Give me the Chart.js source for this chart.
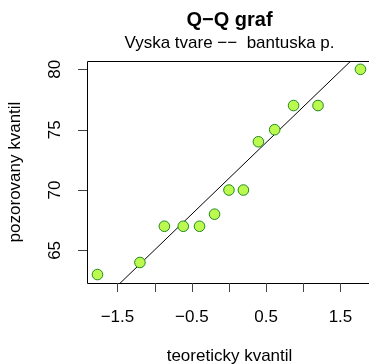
<!DOCTYPE html>
<html>
<head>
<meta charset="utf-8">
<script src="https://cdn.jsdelivr.net/npm/chart.js@4.4.1/dist/chart.umd.min.js"></script>
<style>
  html, body { margin: 0; padding: 0; background: #fff; overflow: hidden; }
  #wrap { width: 369px; height: 364px; position: relative; }
</style>
</head>
<body>
<div id="wrap"><canvas id="qq" width="369" height="364"></canvas></div>
<script>
// theoretical normal quantiles (x) and sorted sample values (y)
const teoreticky = [-1.769, -1.198, -0.869, -0.615, -0.396, -0.194, 0, 0.194, 0.396, 0.615, 0.869, 1.198, 1.769];
const pozorovany = [63, 64, 67, 67, 67, 68, 70, 70, 74, 75, 77, 77, 80];
const xTicks = [-1.5, -1.0, -0.5, 0, 0.5, 1.0, 1.5];
const xTickLabels = ['-1.5', '', '-0.5', '', '0.5', '', '1.5'];
const yTicks = [65, 70, 75, 80];
// visible part of the plot region (right border falls just off the page)
const xRange = [-1.91, 1.884];
const yRange = [62.3, 80.69];
// reference line: intercept, slope
const qqLine = [70.97, 5.93];

const FONT = 'Liberation Sans, Arial, sans-serif';

const points = teoreticky.map((x, i) => ({ x, y: pozorovany[i] }));
const linePts = xRange.map(x => ({ x, y: qqLine[0] + qqLine[1] * x }));

// draws R-style box, ticks and labels from the chart scales
const rAxes = {
  id: 'rAxes',
  afterDraw(chart) {
    const { ctx, chartArea: a, scales: { x, y } } = chart;
    ctx.save();
    ctx.strokeStyle = '#000';
    ctx.lineWidth = 1;
    ctx.beginPath();
    ctx.moveTo(a.right + 1, a.top + 0.5);
    ctx.lineTo(a.left + 0.5, a.top + 0.5);
    ctx.lineTo(a.left + 0.5, a.bottom + 0.5);
    ctx.lineTo(a.right + 1, a.bottom + 0.5);
    ctx.stroke();

    ctx.fillStyle = '#000';
    ctx.textAlign = 'center';
    ctx.textBaseline = 'middle';
    ctx.beginPath();
    xTicks.forEach((v) => {
      const px = Math.round(x.getPixelForValue(v)) + 0.5;
      ctx.moveTo(px, a.bottom);
      ctx.lineTo(px, a.bottom + 9);
    });
    yTicks.forEach((v) => {
      const py = Math.round(y.getPixelForValue(v)) + 0.5;
      ctx.moveTo(a.left, py);
      ctx.lineTo(a.left - 9, py);
    });
    ctx.strokeStyle = '#444';
    ctx.stroke();

    ctx.font = '17px ' + FONT;
    xTicks.forEach((v, i) => {
      const label = xTickLabels[i].replace('-', '\u2212');
      if (label) ctx.fillText(label, x.getPixelForValue(v), 317);
    });
    yTicks.forEach((v) => {
      ctx.save();
      ctx.translate(55, y.getPixelForValue(v));
      ctx.rotate(-Math.PI / 2);
      ctx.fillText(String(v), 0, 0);
      ctx.restore();
    });

    const cx = 229.5;
    ctx.fillText('teoreticky kvantil', cx, 356);
    ctx.save();
    ctx.translate(15, (a.top + a.bottom) / 2);
    ctx.rotate(-Math.PI / 2);
    ctx.fillText('pozorovany kvantil', 0, 0);
    ctx.restore();

    ctx.fillText('Vyska tvare \u2212\u2212  bantuska p.', cx, 43);
    ctx.font = 'bold 20px ' + FONT;
    ctx.fillText('Q\u2212Q graf', cx, 20);
    ctx.restore();
  },
};

new Chart(document.getElementById('qq'), {
  type: 'scatter',
  data: {
    datasets: [
      {
        type: 'line',
        data: linePts,
        borderColor: '#000',
        borderWidth: 1,
        pointRadius: 0,
        fill: false,
        order: 2,
      },
      {
        data: points,
        backgroundColor: '#BDFA4F',
        borderColor: '#1E8A1E',
        borderWidth: 1,
        pointRadius: 5.3,
        order: 1,
      },
    ],
  },
  options: {
    responsive: false,
    animation: false,
    devicePixelRatio: 1,
    layout: { autoPadding: false, padding: { left: 87, top: 61, right: 0, bottom: 81 } },
    plugins: { legend: { display: false }, tooltip: { enabled: false }, title: { display: false } },
    scales: {
      x: { type: 'linear', min: xRange[0], max: xRange[1], display: false },
      y: { type: 'linear', min: yRange[0], max: yRange[1], display: false },
    },
  },
  plugins: [rAxes],
});
</script>
</body>
</html>
